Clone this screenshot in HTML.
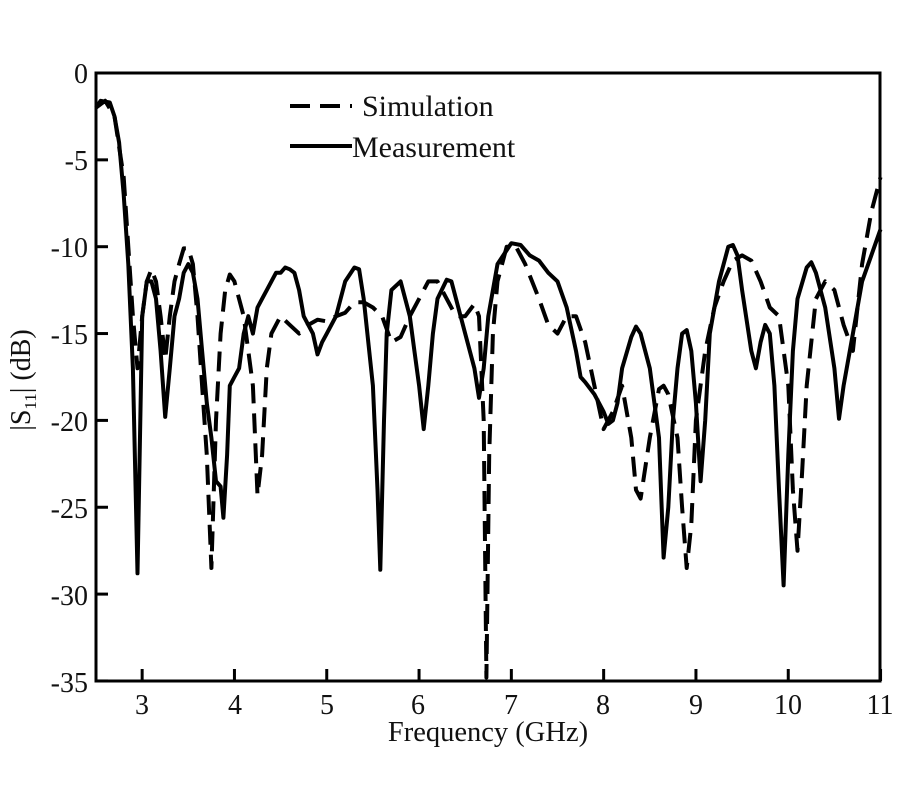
<!DOCTYPE html>
<html><head><meta charset="utf-8"><style>
body{margin:0;background:#fff}
svg text{font-family:"Liberation Serif",serif;fill:#111}
</style></head><body>
<svg id="s" width="900" height="800" viewBox="0 0 900 800" xmlns="http://www.w3.org/2000/svg">
<rect width="900" height="800" fill="#fff"/>
<g id="curves"></g>
<rect x="96" y="73" width="784" height="608" fill="none" stroke="#000" stroke-width="3"/>
<g stroke="#000" stroke-width="3" id="ticks"></g>
<g font-size="28" text-anchor="end">
<text x="88" y="83">0</text><text x="88" y="170">-5</text><text x="88" y="257">-10</text>
<text x="88" y="344">-15</text><text x="88" y="431">-20</text><text x="88" y="518">-25</text>
<text x="88" y="605">-30</text><text x="88" y="692">-35</text>
</g>
<g font-size="28" text-anchor="middle">
<text x="142" y="714">3</text><text x="235" y="714">4</text><text x="327" y="714">5</text>
<text x="418" y="714">6</text><text x="511" y="714">7</text><text x="603" y="714">8</text>
<text x="696" y="714">9</text><text x="788" y="714">10</text><text x="880" y="714">11</text>
</g>
<text x="488" y="741" font-size="28.5" text-anchor="middle">Frequency (GHz)</text>
<text transform="translate(30,380) rotate(-90)" font-size="28" text-anchor="middle">|S<tspan font-size="17" dy="6">11</tspan><tspan dy="-6">| (dB)</tspan></text>
<line x1="290" y1="106" x2="352" y2="106" stroke="#000" stroke-width="4" stroke-dasharray="20,10"/>
<text x="362" y="116" font-size="30">Simulation</text>
<line x1="290" y1="146" x2="352" y2="146" stroke="#000" stroke-width="4"/>
<text x="352" y="157" font-size="30">Measurement</text>
</svg>
<script>
const X=f=>96+(f-2.5)*92.3, Y=d=>73-d*17.37;
const meas=[2.5,-2,2.55,-1.6,2.65,-1.7,2.7,-2.5,2.75,-4,2.8,-7,2.85,-11,2.9,-17,2.95,-28.8,2.98,-20,3.0,-14,3.05,-12,3.1,-12,3.15,-13,3.2,-16,3.25,-19.8,3.3,-17,3.35,-14,3.4,-13,3.45,-11.5,3.5,-11,3.55,-11.5,3.6,-13,3.65,-16,3.7,-19,3.75,-21,3.8,-23.5,3.85,-23.8,3.88,-25.6,3.92,-22,3.95,-18,4.0,-17.5,4.05,-17,4.1,-15,4.15,-14,4.2,-15,4.25,-13.5,4.3,-13,4.35,-12.5,4.4,-12,4.45,-11.5,4.5,-11.5,4.55,-11.2,4.6,-11.3,4.65,-11.5,4.7,-12.5,4.75,-14,4.8,-14.5,4.85,-15,4.9,-16.2,4.95,-15.5,5.0,-15,5.1,-14,5.2,-12,5.3,-11.2,5.35,-11.3,5.4,-13,5.5,-18,5.55,-24,5.58,-28.6,5.62,-20,5.65,-15,5.7,-12.5,5.8,-12,5.85,-13,5.9,-14,5.95,-16,6.0,-18,6.05,-20.5,6.1,-18,6.15,-15,6.2,-13,6.3,-11.9,6.35,-12,6.4,-13,6.5,-15,6.6,-17,6.65,-18.7,6.7,-17,6.75,-14,6.85,-11,7.0,-9.8,7.1,-9.9,7.2,-10.5,7.3,-10.8,7.4,-11.5,7.5,-12,7.6,-13.5,7.7,-16,7.75,-17.5,7.8,-17.8,7.9,-18.5,8.0,-19.5,8.05,-20.2,8.1,-20,8.15,-19,8.2,-17,8.3,-15.2,8.35,-14.6,8.4,-15,8.5,-17,8.6,-21,8.65,-27.9,8.7,-25,8.75,-20,8.8,-17,8.85,-15,8.9,-14.8,8.95,-16,9.0,-19,9.05,-23.5,9.1,-20,9.15,-15,9.25,-12,9.35,-10,9.4,-9.9,9.45,-10.5,9.5,-12.5,9.6,-16,9.65,-17,9.7,-15.5,9.75,-14.5,9.8,-15,9.85,-18,9.9,-24,9.95,-29.5,10.0,-22,10.05,-16,10.1,-13,10.2,-11.2,10.25,-10.9,10.3,-11.5,10.4,-13.5,10.5,-17,10.55,-19.9,10.6,-18,10.7,-15,10.8,-12,10.9,-10.5,11,-9];
const sim=[2.5,-2,2.6,-1.6,2.7,-2.5,2.8,-6,2.85,-10,2.9,-14,2.95,-17,3.0,-14,3.05,-12,3.1,-11.3,3.15,-12,3.2,-14,3.25,-16.5,3.3,-14,3.35,-12,3.4,-11,3.45,-10.1,3.5,-10.1,3.55,-11,3.6,-14,3.65,-18,3.7,-22,3.75,-28.5,3.8,-20,3.85,-15,3.9,-12.5,3.95,-11.6,4.0,-12,4.1,-14,4.2,-18,4.25,-24.3,4.3,-22,4.35,-17,4.4,-15,4.5,-14,4.6,-14.5,4.7,-15,4.8,-14.5,4.9,-14.2,5.0,-14.3,5.1,-14,5.2,-13.8,5.3,-13.2,5.4,-13.2,5.5,-13.5,5.6,-14,5.7,-15.5,5.8,-15.2,5.9,-14,6.0,-13,6.1,-12,6.2,-12,6.3,-13,6.4,-14,6.5,-14,6.6,-13.3,6.65,-14,6.7,-20,6.73,-34.8,6.76,-22,6.8,-15,6.85,-12,6.95,-10,7.05,-10,7.15,-11,7.3,-13,7.4,-14.5,7.5,-15,7.6,-14,7.7,-14,7.8,-15.5,7.9,-18,8.0,-20.5,8.1,-19.5,8.2,-18,8.3,-21,8.35,-24,8.4,-24.5,8.5,-21,8.6,-18.2,8.65,-18,8.7,-18.5,8.8,-21,8.85,-25,8.9,-28.5,8.95,-26,9.0,-20,9.1,-16,9.2,-13.5,9.3,-12,9.4,-10.8,9.5,-10.5,9.6,-10.8,9.7,-12,9.8,-13.5,9.9,-14,10.0,-18,10.05,-24,10.1,-27.5,10.15,-23,10.2,-18,10.3,-13,10.4,-12,10.5,-12.5,10.6,-14.5,10.7,-16,10.8,-11,10.9,-8,11,-6];
function path(a){let d='';for(let i=0;i<a.length;i+=2)d+=(i?'L':'M')+X(a[i]).toFixed(1)+','+Y(a[i+1]).toFixed(1);return d;}
const ns='http://www.w3.org/2000/svg',g=document.getElementById('curves');
[[sim,'20,10'],[meas,null]].forEach(([a,da])=>{const p=document.createElementNS(ns,'path');p.setAttribute('d',path(a));p.setAttribute('fill','none');p.setAttribute('stroke','#000');p.setAttribute('stroke-width','4');p.setAttribute('stroke-linejoin','round');if(da)p.setAttribute('stroke-dasharray',da);g.appendChild(p);});
const t=document.getElementById('ticks');let s='';
for(let v=0;v>=-35;v-=5)s+=`<line x1="96" y1="${Y(v)}" x2="108" y2="${Y(v)}"/>`;
for(let f=3;f<=11;f++)s+=`<line x1="${X(f)}" y1="681" x2="${X(f)}" y2="669"/>`;
t.innerHTML=s;
</script>
</body></html>
